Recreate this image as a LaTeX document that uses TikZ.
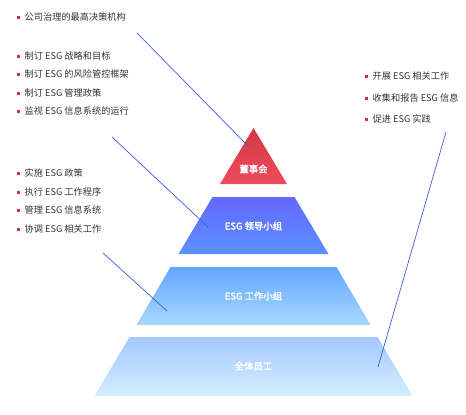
\documentclass[tikz,border=0pt]{standalone}
\usepackage{fontspec}
\setmainfont{Noto Sans CJK SC}
\newfontfamily\tierfont{Noto Sans CJK SC}[FakeBold=2]
\usepackage{xcolor}
\usetikzlibrary{positioning}
\definecolor{bulred}{HTML}{C8323C}
\definecolor{txtgray}{HTML}{333333}
\definecolor{leadblue}{HTML}{3A5EE0}
\tikzset{
  % bullet list items
  item/.style={anchor=west,inner sep=0pt,text height=7pt,text depth=2pt,
               font=\fontsize{9.2}{10}\selectfont,text=txtgray},
  % pyramid tier labels
  tierlabel/.style={inner sep=0pt,font=\tierfont\fontsize{9.4}{10}\selectfont,text=white},
  % leader lines
  leader/.style={leadblue,line width=0.7pt},
}
\newcommand{\bul}{\textcolor{bulred}{\rule[1.5pt]{3pt}{3pt}}\hspace{4.5pt}}

\begin{document}
\begin{tikzpicture}[x=1pt,y=-1pt]
\useasboundingbox (0,0) rectangle (466,415);
% pyramid tiers
\shade[top color={rgb,255:red,214;green,56;blue,72},bottom color={rgb,255:red,236;green,76;blue,92}]
  (253.5,128) -- (287,184) -- (220,184) -- cycle;
\shade[top color={rgb,255:red,100;green,104;blue,255},bottom color={rgb,255:red,90;green,146;blue,255}]
  (212.5,197) -- (294.5,197) -- (328.5,254) -- (178.5,254) -- cycle;
\shade[top color={rgb,255:red,98;green,166;blue,255},bottom color={rgb,255:red,168;green,216;blue,255}]
  (170.5,267) -- (336.5,267) -- (370.5,325) -- (136.5,325) -- cycle;
\shade[top color={rgb,255:red,164;green,200;blue,255},bottom color={rgb,255:red,212;green,238;blue,255}]
  (129.5,337) -- (377.5,337) -- (412.5,396) -- (94.5,396) -- cycle;
\node[tierlabel] (board) at (253.5,169) {董事会};
\node[tierlabel] (lead) at (253.5,226) {ESG 领导小组};
\node[tierlabel] (work) at (253.5,296) {ESG 工作小组};
\node[tierlabel] (staff) at (253.5,366) {全体员工};
% bullet lists
\node[item] (b1) at (17,18) {\bul 公司治理的最高决策机构};
\foreach \t [count=\i] in {制订 ESG 战略和目标,制订 ESG 的风险管控框架,制订 ESG 管理政策,监视 ESG 信息系统的运行}
  \node[item] (l\i) at (17,{57+18.4*(\i-1)}) {\bul \t};
\foreach \t [count=\i] in {实施 ESG 政策,执行 ESG 工作程序,管理 ESG 信息系统,协调 ESG 相关工作}
  \node[item] (w\i) at (17,{174+18.6*(\i-1)}) {\bul \t};
\foreach \t [count=\i] in {开展 ESG 相关工作,收集和报告 ESG 信息,促进 ESG 实践}
  \node[item] (s\i) at (365,{77+21.5*(\i-1)}) {\bul \t};
% leader lines
\coordinate (boardA) at (137,33);   \coordinate (boardB) at (249,147);
\coordinate (leadA)  at (112,137);  \coordinate (leadB)  at (208,227);
\coordinate (workA)  at (103,253);  \coordinate (workB)  at (167,311);
\coordinate (staffA) at (446,132);  \coordinate (staffB) at (378,367);
\draw[leader] (boardA) -- (boardB);
\draw[leader] (leadA) -- (leadB);
\draw[leader] (workA) -- (workB);
\draw[leader] (staffA) -- (staffB);
\end{tikzpicture}
\end{document}
